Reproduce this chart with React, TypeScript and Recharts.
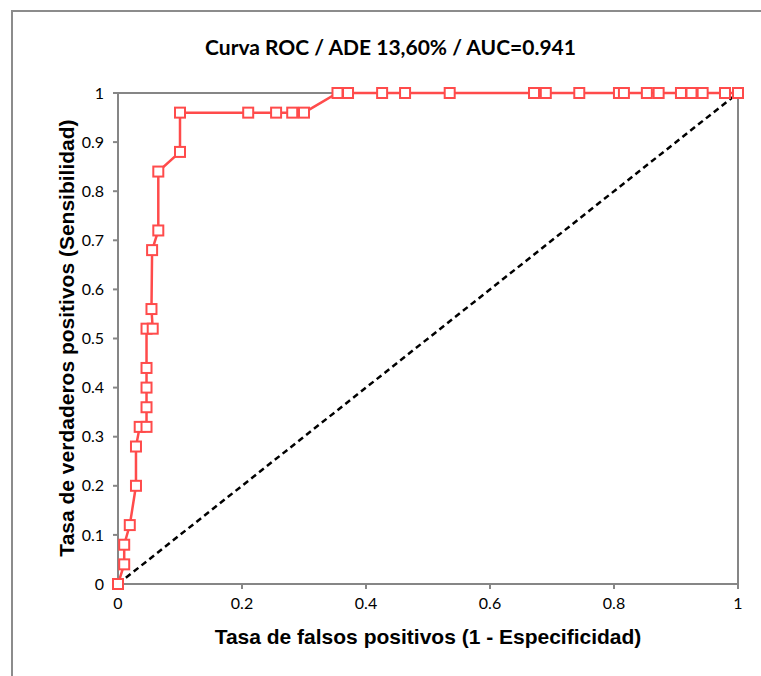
import {
  ComposedChart,
  Line,
  XAxis,
  YAxis,
  ReferenceLine,
} from "recharts";

const fpr = [
  0, 0.01, 0.01, 0.019, 0.029, 0.029, 0.035, 0.046, 0.046, 0.046, 0.046,
  0.046, 0.056, 0.054, 0.055, 0.065, 0.065, 0.1, 0.1, 0.21, 0.255, 0.281, 0.3,
  0.354, 0.371, 0.426, 0.463, 0.535, 0.671, 0.69, 0.744, 0.808, 0.816, 0.853,
  0.872, 0.908, 0.925, 0.943, 0.979, 1,
];
const tpr = [
  0, 0.04, 0.08, 0.12, 0.2, 0.28, 0.32, 0.32, 0.36, 0.4, 0.44, 0.52, 0.52,
  0.56, 0.68, 0.72, 0.84, 0.88, 0.96, 0.96, 0.96, 0.96, 0.96, 1, 1, 1, 1, 1,
  1, 1, 1, 1, 1, 1, 1, 1, 1, 1, 1, 1,
];
const diagX = [0, 1];
const diagY = [0, 1];
const xTicks = [0, 0.2, 0.4, 0.6, 0.8, 1];
const yTicks = [0, 0.1, 0.2, 0.3, 0.4, 0.5, 0.6, 0.7, 0.8, 0.9, 1];

const TITLE = "Curva ROC / ADE 13,60% / AUC=0.941";
const X_TITLE = "Tasa de falsos positivos (1 - Especificidad)";
const Y_TITLE = "Tasa de verdaderos positivos (Sensibilidad)";

const rocData = fpr.map((x, i) => ({ fpr: x, tpr: tpr[i] }));
const diagData = diagX.map((x, i) => ({ fpr: x, tpr: diagY[i] }));

const AXIS = "#868686";
const RED = "#ff4b4b";
const tickStyle = { fontFamily: "Lato, sans-serif", fontSize: 16, fill: "#000" };
const labelFont = "'Liberation Sans', Arial, sans-serif";

function SquareDot(props: any) {
  const { cx, cy, index } = props;
  if (cx == null || cy == null) return null;
  return (
    <rect
      key={`sq-${index}`}
      x={cx - 5}
      y={cy - 5}
      width={10}
      height={10}
      fill="#fff"
      stroke={RED}
      strokeWidth={2}
    />
  );
}

const fmt = (v: number) => String(v);

export default function App() {
  return (
    <div
      style={{
        position: "absolute",
        left: 0,
        top: 0,
        width: 761,
        height: 676,
        overflow: "hidden",
        background: "#fff",
      }}
    >
      <div
        style={{
          position: "absolute",
          left: 11,
          top: 10,
          width: 800,
          height: 700,
          border: "2px solid #8c8c8c",
        }}
      />
      <div
        style={{
          position: "absolute",
          left: 0,
          width: 781,
          top: 34,
          textAlign: "center",
          fontFamily: "Lato, sans-serif",
          fontWeight: 700,
          fontSize: 21,
          lineHeight: "26px",
          whiteSpace: "nowrap",
        }}
      >
        {TITLE}
      </div>
      <ComposedChart
        width={761}
        height={676}
        margin={{ top: 93, right: 23, bottom: 0, left: 0 }}
        style={{ position: "absolute", left: 0, top: 0 }}
      >
        <XAxis
          dataKey="fpr"
          type="number"
          domain={[0, 1]}
          ticks={xTicks}
          tickFormatter={fmt}
          height={92}
          axisLine={{ stroke: AXIS, strokeWidth: 2 }}
          tickLine={{ stroke: AXIS, strokeWidth: 2 }}
          tickSize={5}
          tickMargin={9}
          tick={tickStyle}
          interval={0}
        />
        <YAxis
          dataKey="tpr"
          type="number"
          domain={[0, 1]}
          ticks={yTicks}
          tickFormatter={fmt}
          width={118}
          axisLine={{ stroke: AXIS, strokeWidth: 2 }}
          tickLine={{ stroke: AXIS, strokeWidth: 2 }}
          tickSize={5}
          tickMargin={9}
          tick={tickStyle}
          interval={0}
        />
        <ReferenceLine y={1} stroke={AXIS} strokeWidth={2} />
        <ReferenceLine x={1} stroke={AXIS} strokeWidth={2} />
        <Line
          data={diagData}
          dataKey="tpr"
          stroke="#000"
          strokeWidth={2.5}
          strokeDasharray="6 4"
          dot={false}
          isAnimationActive={false}
        />
        <Line
          data={rocData}
          dataKey="tpr"
          stroke={RED}
          strokeWidth={2.5}
          dot={<SquareDot />}
          activeDot={false}
          isAnimationActive={false}
        />
      </ComposedChart>
      <div
        style={{
          position: "absolute",
          left: 118,
          width: 620,
          top: 624,
          textAlign: "center",
          fontFamily: labelFont,
          fontWeight: 700,
          fontSize: 21,
          lineHeight: "26px",
          whiteSpace: "nowrap",
        }}
      >
        {X_TITLE}
      </div>
      <div
        style={{
          position: "absolute",
          left: 67 - 250,
          top: 338 - 13,
          width: 500,
          textAlign: "center",
          transform: "rotate(-90deg)",
          fontFamily: labelFont,
          fontWeight: 700,
          fontSize: 21,
          lineHeight: "26px",
          whiteSpace: "nowrap",
        }}
      >
        {Y_TITLE}
      </div>
    </div>
  );
}
